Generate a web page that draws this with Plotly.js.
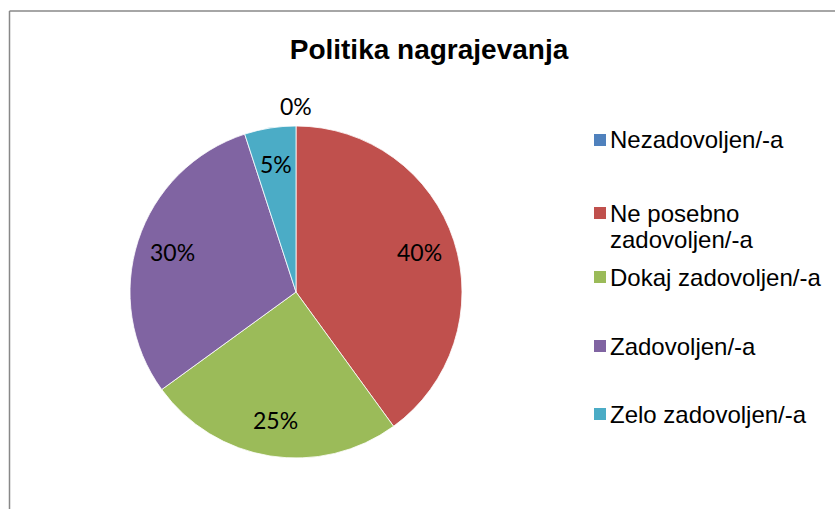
<!DOCTYPE html>
<html>
<head>
<meta charset="utf-8">
<script src="https://cdn.plot.ly/plotly-3.0.1.min.js"></script>
<style>
  html, body { margin: 0; padding: 0; background: #ffffff; }
  #chart { width: 835px; height: 509px; }
</style>
</head>
<body>
<div id="chart"></div>
<script>
// ---- data ----
const chartTitle = 'Politika nagrajevanja';
const categories = ['Nezadovoljen/-a', 'Ne posebno zadovoljen/-a', 'Dokaj zadovoljen/-a', 'Zadovoljen/-a', 'Zelo zadovoljen/-a'];
const legendLabels = ['Nezadovoljen/-a', 'Ne posebno<br>zadovoljen/-a', 'Dokaj zadovoljen/-a', 'Zadovoljen/-a', 'Zelo zadovoljen/-a'];
const values = [0, 40, 25, 30, 5];
const colors = ['#4F81BD', '#C0504D', '#9BBB59', '#8064A2', '#4BACC6'];

// ---- layout constants (pixels) ----
const W = 835, H = 509;
const cx = 296, cy = 292, R = 166;
const legendMarkerX = 594, legendMarkerSize = 12, legendTextX = 608;
const legendY = [140, 213, 277, 346, 414];
const legendLineGap = 26;

const px = x => x / W;
const py = y => 1 - y / H;

const total = values.reduce((a, b) => a + b, 0);

const trace = {
  type: 'pie',
  labels: categories,
  values: values,
  sort: false,
  direction: 'clockwise',
  rotation: 0,
  textinfo: 'none',
  hoverinfo: 'label+percent',
  marker: { colors: colors, line: { color: '#ffffff', width: 0.8 } },
  domain: { x: [px(cx - R), px(cx + R)], y: [py(cy + R), py(cy - R)] },
  showlegend: false
};

const annotations = [];
const shapes = [];

// percentage labels positioned from the data (slice mid angles)
let cum = 0;
values.forEach((v, i) => {
  const frac = v / total;
  const mid = (cum + frac / 2) * 2 * Math.PI;
  cum += frac;
  const rf = v === 0 ? 1.12 : 0.78;
  const x = cx + rf * R * Math.sin(mid);
  const y = cy - rf * R * Math.cos(mid);
  annotations.push({
    xref: 'paper', yref: 'paper', x: px(x), y: py(y),
    xanchor: 'center', yanchor: 'middle', showarrow: false,
    text: Math.round(frac * 100) + '%',
    font: { family: 'Lato, "Open Sans", sans-serif', size: 23, color: '#000000' }
  });
});

// legend
legendLabels.forEach((lab, i) => {
  shapes.push({
    type: 'rect', xref: 'paper', yref: 'paper',
    x0: px(legendMarkerX), x1: px(legendMarkerX + legendMarkerSize),
    y0: py(legendY[i] + legendMarkerSize / 2), y1: py(legendY[i] - legendMarkerSize / 2),
    fillcolor: colors[i], line: { width: 0 }
  });
  lab.split('<br>').forEach((line, k) => {
    annotations.push({
      xref: 'paper', yref: 'paper', x: px(legendTextX), y: py(legendY[i] + k * legendLineGap),
      xanchor: 'left', yanchor: 'middle', showarrow: false, align: 'left',
      text: line,
      font: { family: '"Liberation Sans", Arial, sans-serif', size: 24, color: '#000000' }
    });
  });
});

// chart-area border (top and left visible)
shapes.push({ type: 'line', xref: 'paper', yref: 'paper', x0: px(9.5), x1: 1, y0: py(11), y1: py(11), line: { color: '#888888', width: 1.5 } });
shapes.push({ type: 'line', xref: 'paper', yref: 'paper', x0: px(9.5), x1: px(9.5), y0: py(11), y1: 0, line: { color: '#888888', width: 1.5 } });

const layout = {
  width: W, height: H,
  margin: { l: 0, r: 0, t: 0, b: 0 },
  paper_bgcolor: '#ffffff',
  plot_bgcolor: '#ffffff',
  showlegend: false,
  title: {
    text: '<b>' + chartTitle + '</b>',
    x: px(429), xanchor: 'center', xref: 'paper',
    y: py(49), yanchor: 'middle', yref: 'paper',
    font: { family: '"Liberation Sans", Arial, sans-serif', size: 28, color: '#000000' }
  },
  annotations: annotations,
  shapes: shapes
};

Plotly.newPlot('chart', [trace], layout, { displayModeBar: false, staticPlot: true });
</script>
</body>
</html>
